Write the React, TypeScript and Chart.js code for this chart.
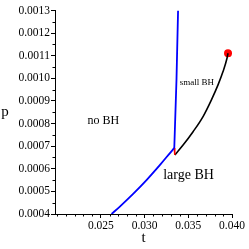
import React, { useEffect, useRef } from "react";
import { Chart, registerables } from "chart.js";

Chart.register(...registerables);

// Curves
const blueT = [0.026222, 0.02717, 0.02869, 0.03022, 0.03174, 0.03326, 0.033397];
const blueP = [0.0004, 0.000433, 0.000489, 0.00055, 0.000616, 0.000686, 0.000692];

const blueUpperT = [0.033397, 0.033648, 0.03383];
const blueUpperP = [0.000692, 0.000993, 0.0013];

const redT = [0.033397, 0.033454];
const redP = [0.000692, 0.000661];

const blackT = [0.033454, 0.034402, 0.035545, 0.036687, 0.037647, 0.038401, 0.038972, 0.039429, 0.039544];
const blackP = [0.000661, 0.000705, 0.000764, 0.000831, 0.000905, 0.000971, 0.00103, 0.001089, 0.001111];

const criticalT = [0.039544];
const criticalP = [0.001111];

const xMajorTicks = [0.025, 0.03, 0.035, 0.04];
const xMinorTicks = [0.02, 0.021, 0.022, 0.023, 0.024, 0.026, 0.027, 0.028, 0.029, 0.031, 0.032, 0.033, 0.034, 0.036, 0.037, 0.038, 0.039];
const yMinorTicks = [0.00045, 0.00055, 0.00065, 0.00075, 0.00085, 0.00095, 0.00105, 0.00115, 0.00125];

const regionLabels = [
  { text: "no BH", t: 0.02529, p: 0.000813, size: 12 },
  { text: "small BH", t: 0.03599, p: 0.000981, size: 9 },
  { text: "large BH", t: 0.03503, p: 0.00057, size: 14 },
];

const SERIF = '"Liberation Serif", "DejaVu Serif", serif';

const pts = (ts: number[], ps: number[]) => ts.map((t, i) => ({ x: t, y: ps[i] }));

export default function App() {
  const ref = useRef<HTMLCanvasElement | null>(null);

  useEffect(() => {
    if (!ref.current) return;

    const extras = {
      id: "extras",
      afterDraw(chart: any) {
        const ctx = chart.ctx;
        const xs = chart.scales.x;
        const ys = chart.scales.y;
        const area = chart.chartArea;
        ctx.save();
        ctx.strokeStyle = "#000";
        ctx.lineWidth = 1;
        ctx.beginPath();
        xMinorTicks.forEach((v) => {
          const px = Math.round(xs.getPixelForValue(v)) + 0.5;
          ctx.moveTo(px, area.bottom);
          ctx.lineTo(px, area.bottom + 2.5);
        });
        yMinorTicks.forEach((v) => {
          const py = Math.round(ys.getPixelForValue(v)) + 0.5;
          ctx.moveTo(area.left, py);
          ctx.lineTo(area.left - 2.5, py);
        });
        ctx.stroke();
        ctx.fillStyle = "#000";
        ctx.textAlign = "center";
        ctx.textBaseline = "middle";
        regionLabels.forEach((l) => {
          ctx.font = `${l.size}px ${SERIF}`;
          ctx.fillText(l.text, xs.getPixelForValue(l.t), ys.getPixelForValue(l.p));
        });
        ctx.font = `15px ${SERIF}`;
        ctx.fillText("t", (area.left + area.right) / 2, 238);
        ctx.fillText("p", 5, (area.top + area.bottom) / 2);
        ctx.restore();
      },
    };

    const line = (ts: number[], ps: number[], color: string, width: number, smooth: boolean) => ({
      data: pts(ts, ps),
      showLine: true,
      borderColor: color,
      borderWidth: width,
      pointRadius: 0,
      cubicInterpolationMode: smooth ? "monotone" : "default",
      tension: smooth ? 0.4 : 0,
    });

    const chart = new Chart(ref.current, {
      type: "scatter",
      data: {
        datasets: [
          line(blueT, blueP, "#0000ff", 1.8, true) as any,
          line(blueUpperT, blueUpperP, "#0000ff", 1.8, false) as any,
          line(redT, redP, "#ff0000", 1.5, false) as any,
          line(blackT, blackP, "#000000", 1.6, true) as any,
          {
            data: pts(criticalT, criticalP),
            showLine: false,
            pointRadius: 4,
            pointBackgroundColor: "#ff0000",
            pointBorderColor: "#ff0000",
            pointBorderWidth: 0,
          },
        ],
      },
      options: {
        animation: false,
        responsive: false,
        devicePixelRatio: 1,
        layout: { padding: { top: 10.5, right: 17, bottom: 0, left: 0 } },
        plugins: { legend: { display: false }, tooltip: { enabled: false } },
        scales: {
          x: {
            type: "linear",
            min: 0.01975,
            max: 0.04,
            afterFit: (s: any) => {
              s.height = 35;
            },
            afterBuildTicks: (s: any) => {
              s.ticks = xMajorTicks.map((v) => ({ value: v }));
            },
            ticks: {
              autoSkip: false,
              maxRotation: 0,
              padding: 1,
              color: "#000",
              font: { family: SERIF, size: 11.5 },
              callback: (v: any) => Number(v).toFixed(3),
            },
            grid: { drawOnChartArea: false, tickLength: 4, color: "#000" },
            border: { color: "#000", width: 1 },
          },
          y: {
            type: "linear",
            min: 0.0004,
            max: 0.0013,
            afterFit: (s: any) => {
              s.width = 55;
            },
            afterBuildTicks: (s: any) => {
              const arr = [];
              for (let i = 0; i <= 9; i++) arr.push({ value: 0.0004 + i * 0.0001 });
              s.ticks = arr;
            },
            ticks: {
              autoSkip: false,
              padding: 1,
              color: "#000",
              font: { family: SERIF, size: 11.5 },
              callback: (v: any) => Number(v).toFixed(4),
            },
            grid: { drawOnChartArea: false, tickLength: 4, color: "#000" },
            border: { color: "#000", width: 1 },
          },
        },
      },
      plugins: [extras],
    });

    return () => chart.destroy();
  }, []);

  return (
    <div style={{ position: "absolute", left: 0, top: 0, width: 249, height: 249, background: "#fff" }}>
      <canvas ref={ref} width={249} height={249} style={{ display: "block" }} />
    </div>
  );
}
